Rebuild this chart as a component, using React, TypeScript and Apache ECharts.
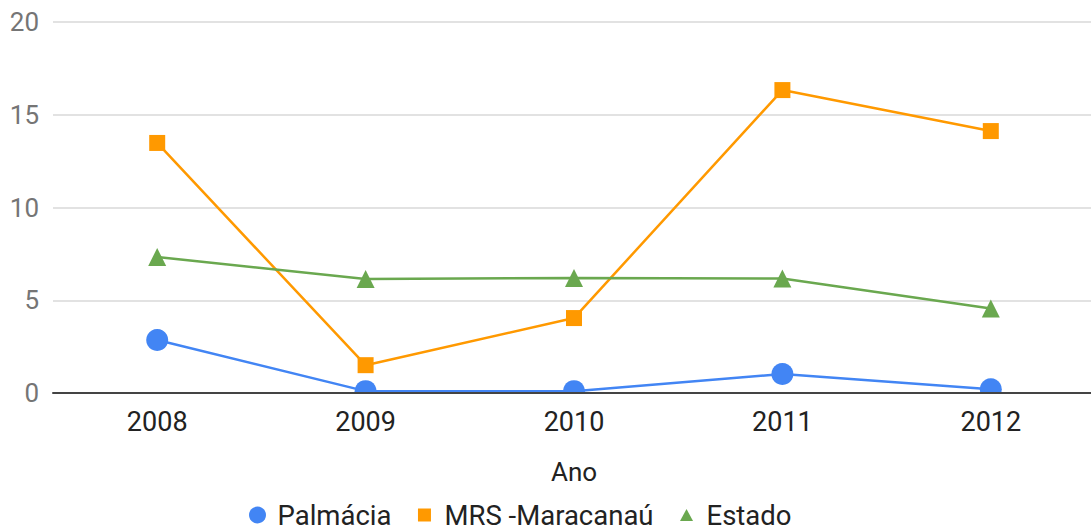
import React, { useEffect, useRef } from "react";
import * as echarts from "echarts";

const years = ["2008", "2009", "2010", "2011", "2012"];
const palmacia = [2.86, 0.1, 0.1, 1.02, 0.2];
const maracanau = [13.48, 1.5, 4.04, 16.33, 14.12];
const estado = [7.33, 6.15, 6.2, 6.17, 4.55];
const yTicks = { min: 0, max: 20, interval: 5 };

const FONT = "Roboto";
const BLUE = "#4285F4";
const ORANGE = "#FF9900";
const GREEN = "#6AA84F";

const ICON_SQUARE = "path://M0,0M30,17M8.5,2h13v13h-13z";
const ICON_TRIANGLE = "path://M0,0M30,17M15,2.5L21.5,14.5H8.5Z";

export default function App() {
  const ref = useRef<HTMLDivElement>(null);
  useEffect(() => {
    if (!ref.current) return;
    const chart = echarts.init(ref.current, null, { renderer: "svg" });
    chart.setOption({
      animation: false,
      textStyle: { fontFamily: FONT },
      grid: { left: 53, top: 22, width: 1042, height: 371, containLabel: false },
      xAxis: {
        type: "category",
        data: years,
        boundaryGap: true,
        name: "Ano",
        nameLocation: "middle",
        nameGap: 66,
        nameTextStyle: { fontSize: 26, color: "#222", fontFamily: FONT },
        axisLine: { lineStyle: { color: "#444", width: 2 } },
        axisTick: { show: false },
        axisLabel: { fontSize: 27, color: "#222", margin: 15, fontFamily: FONT },
        z: 200,
      },
      yAxis: {
        type: "value",
        min: yTicks.min,
        max: yTicks.max,
        interval: yTicks.interval,
        axisLine: { show: false },
        axisTick: { show: false },
        axisLabel: { fontSize: 26, color: "#757575", margin: 14, fontFamily: FONT },
        splitLine: { lineStyle: { color: "#d9d9d9", width: 1.5 } },
      },
      legend: {
        left: 244,
        top: 496,
        itemGap: 18,
        itemWidth: 30,
        itemHeight: 17,
        textStyle: { fontSize: 27.5, color: "#222", fontFamily: FONT },
        data: [
          { name: "Palmácia", icon: "circle" },
          { name: "MRS -Maracanaú", icon: ICON_SQUARE },
          { name: "Estado", icon: ICON_TRIANGLE },
        ],
      },
      graphic: [
        {
          type: "rect",
          z: 100,
          silent: true,
          shape: { x: 53, y: 394, width: 1050, height: 12 },
          style: { fill: "#fff" },
        },
      ],
      series: [
        {
          name: "Palmácia",
          type: "line",
          data: palmacia,
          symbol: "circle",
          symbolSize: 22,
          color: BLUE,
          lineStyle: { width: 2.5, color: BLUE },
          itemStyle: { color: BLUE },
        },
        {
          name: "MRS -Maracanaú",
          type: "line",
          data: maracanau,
          symbol: "rect",
          symbolSize: 16,
          color: ORANGE,
          lineStyle: { width: 2.5, color: ORANGE },
          itemStyle: { color: ORANGE },
        },
        {
          name: "Estado",
          type: "line",
          data: estado,
          symbol: "triangle",
          symbolSize: 18,
          color: GREEN,
          lineStyle: { width: 2.5, color: GREEN },
          itemStyle: { color: GREEN },
        },
      ],
    });
    return () => chart.dispose();
  }, []);
  return (
    <div
      style={{ position: "fixed", left: 0, top: 0, width: 1091, height: 527, overflow: "hidden", background: "#fff" }}
    >
      <div ref={ref} style={{ width: 1100, height: 527 }} />
    </div>
  );
}
